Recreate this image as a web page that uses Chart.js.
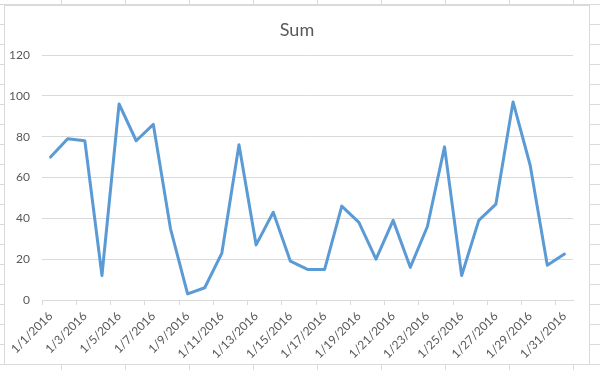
<!DOCTYPE html>
<html>
<head>
<meta charset="utf-8">
<script src="https://cdn.jsdelivr.net/npm/chart.js@4"></script>
<style>
  html, body { margin: 0; padding: 0; }
  body {
    width: 600px; height: 370px; overflow: hidden; position: relative;
    background-color: #ffffff;
    background-image:
      linear-gradient(to right, #dadada 1px, transparent 1px),
      linear-gradient(to bottom, #dadada 1px, transparent 1px);
    background-size: 64px 20px;
    background-position: 61px 4px;
  }
  #box {
    position: absolute; left: 4px; top: 5px; width: 586px; height: 360px;
    box-sizing: border-box; border: 1px solid #d9d9d9; background: #ffffff;
  }
  #c { position: absolute; left: 0; top: 0; }
</style>
</head>
<body>
<div id="box"><canvas id="c" width="584" height="358"></canvas></div>
<script>
const categories = [
  "1/1/2016","1/2/2016","1/3/2016","1/4/2016","1/5/2016","1/6/2016","1/7/2016","1/8/2016",
  "1/9/2016","1/10/2016","1/11/2016","1/12/2016","1/13/2016","1/14/2016","1/15/2016","1/16/2016",
  "1/17/2016","1/18/2016","1/19/2016","1/20/2016","1/21/2016","1/22/2016","1/23/2016","1/24/2016",
  "1/25/2016","1/26/2016","1/27/2016","1/28/2016","1/29/2016","1/30/2016","1/31/2016"
];
const sumValues = [
  70, 79, 78, 12, 96, 78, 86, 35, 3, 6, 23, 76, 27, 43, 19, 15,
  15, 46, 38, 20, 39, 16, 36, 75, 12, 39, 47, 97, 66, 17, 22.5
];
const yTicks = [0, 20, 40, 60, 80, 100, 120];
const seriesName = "Sum";

const FONT = "Lato, 'Open Sans', sans-serif";
const TEXT = "#595959";
const GRID = "#d9d9d9";

new Chart(document.getElementById('c'), {
  type: 'line',
  data: {
    labels: categories,
    datasets: [{
      label: seriesName,
      data: sumValues,
      borderColor: '#5B9BD5',
      backgroundColor: '#5B9BD5',
      borderWidth: 3,
      pointRadius: 0,
      pointHoverRadius: 0,
      tension: 0,
      fill: false,
      borderJoinStyle: 'round',
      borderCapStyle: 'round'
    }]
  },
  options: {
    responsive: false,
    animation: false,
    devicePixelRatio: 1,
    layout: { padding: 0 },
    plugins: {
      legend: { display: false },
      tooltip: { enabled: false },
      title: {
        display: true,
        text: seriesName,
        color: TEXT,
        font: { family: FONT, size: 18, weight: 'normal' },
        padding: { top: 13, bottom: 14.4 }
      }
    },
    scales: {
      x: {
        type: 'category',
        offset: true,
        border: { display: true, color: GRID, width: 1 },
        grid: {
          offset: true,
          drawOnChartArea: false,
          drawTicks: true,
          tickLength: 5,
          color: ctx => (ctx.index % 2 === 0 && ctx.index < categories.length) ? GRID : 'rgba(0,0,0,0)',
          tickColor: ctx => (ctx.index % 2 === 0 && ctx.index < categories.length) ? GRID : 'rgba(0,0,0,0)'
        },
        ticks: {
          autoSkip: false,
          maxRotation: 45,
          minRotation: 45,
          padding: 4,
          color: TEXT,
          font: { family: FONT, size: 12 },
          callback: function(value, index) { return index % 2 === 0 ? this.getLabelForValue(value) : ''; }
        },
        afterFit: s => { s.height = 64; }
      },
      y: {
        min: 0,
        max: 120,
        border: { display: false },
        grid: { color: GRID, drawTicks: false, lineWidth: 1 },
        afterBuildTicks: s => { s.ticks = yTicks.map(v => ({ value: v })); },
        ticks: {
          padding: 12,
          color: TEXT,
          font: { family: FONT, size: 12 }
        },
        afterFit: s => { s.width = 37; }
      },
      yRight: {
        position: 'right',
        display: true,
        min: 0,
        max: 120,
        border: { display: false },
        grid: { display: false, drawTicks: false },
        ticks: { display: false },
        afterFit: s => { s.width = 16; }
      }
    }
  }
});
</script>
</body>
</html>
